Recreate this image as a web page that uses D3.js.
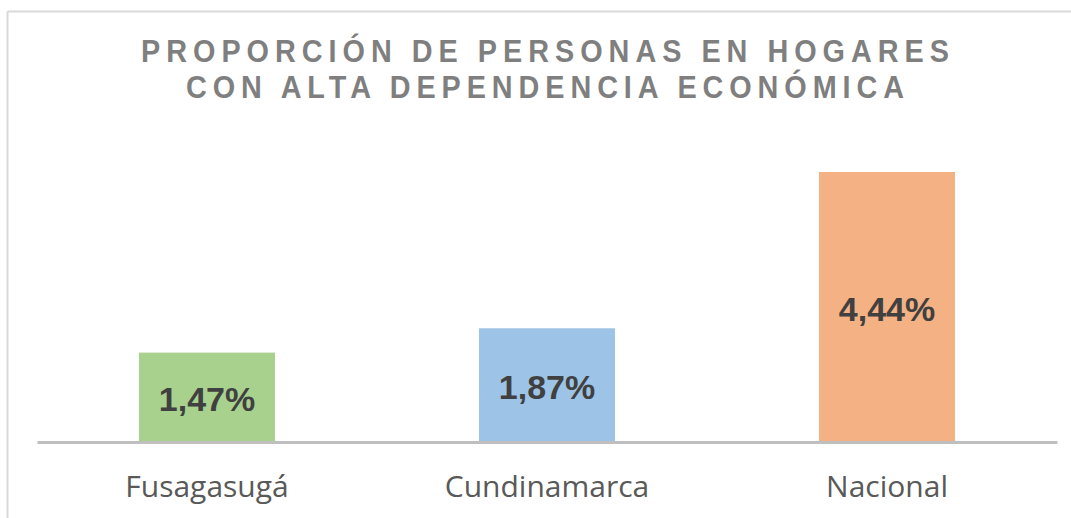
<!DOCTYPE html>
<html><head><meta charset="utf-8">
<script src="https://cdn.jsdelivr.net/npm/d3@7/dist/d3.min.js"></script>
<style>html,body{margin:0;padding:0;background:#fff;}svg{display:block;}</style>
</head><body>
<script>
const categories = ["Fusagasugá", "Cundinamarca", "Nacional"];
const values = [1.47, 1.87, 4.44];
const valueLabels = ["1,47%", "1,87%", "4,44%"];
const colors = ["#a9d18e", "#9dc3e6", "#f4b183"];
const titleLines = ["PROPORCIÓN DE PERSONAS EN HOGARES", "CON ALTA DEPENDENCIA ECONÓMICA"];
const titleWidths = [808, 718];

const W = 1071, H = 518;
const svg = d3.select("body").append("svg").attr("width", W).attr("height", H);

// chart frame
svg.append("line").attr("x1", 7.5).attr("x2", W).attr("y1", 11.5).attr("y2", 11.5).attr("stroke", "#d9d9d9").attr("stroke-width", 2);
svg.append("line").attr("x1", 7.5).attr("x2", 7.5).attr("y1", 11.5).attr("y2", H).attr("stroke", "#d9d9d9").attr("stroke-width", 2);

const x = d3.scaleBand().domain(categories).range([37, 1057]).paddingInner(0.6).paddingOuter(0.3);
const y = d3.scaleLinear().domain([0, 4.44]).range([442, 172]);

// title (condensed glyphs, wide tracking)
const sx = 0.9;
svg.append("g").selectAll("text").data(titleLines).join("text")
  .attr("transform", (d, i) => `translate(545,${62 + i * 36}) scale(${sx},1)`)
  .attr("x", 0).attr("y", 0)
  .attr("text-anchor", "middle")
  .attr("font-family", "Liberation Sans, Arial, sans-serif")
  .attr("font-weight", "bold").attr("font-size", 32)
  .attr("textLength", (d, i) => titleWidths[i] / sx)
  .attr("lengthAdjust", "spacing")
  .attr("fill", "#7f7f7f").text(d => d);

const data = categories.map((c, i) => ({c, v: values[i], l: valueLabels[i], col: colors[i]}));

svg.append("g").selectAll("rect").data(data).join("rect")
  .attr("x", d => x(d.c)).attr("width", x.bandwidth())
  .attr("y", d => y(d.v)).attr("height", d => y(0) - y(d.v))
  .attr("fill", d => d.col);

svg.append("g").selectAll("text").data(data).join("text")
  .attr("x", d => x(d.c) + x.bandwidth() / 2)
  .attr("y", d => (y(d.v) + y(0)) / 2 + 14)
  .attr("text-anchor", "middle")
  .attr("font-family", "Liberation Sans, Arial, sans-serif")
  .attr("font-weight", "bold").attr("font-size", 34)
  .attr("fill", "#404040").text(d => d.l);

// axis
const axis = svg.append("g").attr("transform", "translate(0,442)")
  .call(d3.axisBottom(x).tickSize(0).tickPadding(34));
axis.select(".domain").attr("stroke", "#bfbfbf").attr("stroke-width", 3);
axis.selectAll("text").attr("font-family", "Open Sans, sans-serif").attr("font-size", 30)
  .attr("fill", "#595959");
</script>
</body></html>
